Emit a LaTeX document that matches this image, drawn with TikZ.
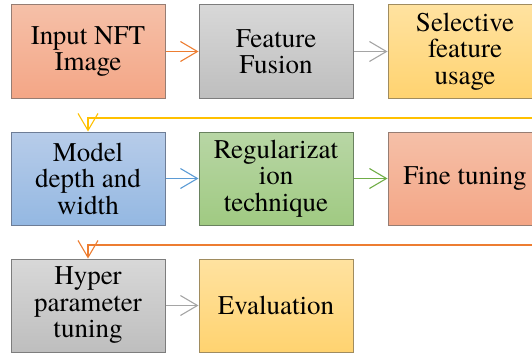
\documentclass[tikz,border=0pt]{standalone}
\usepackage{fontspec}
\IfFontExistsTF{texgyretermes-regular.otf}
  {\newfontfamily\boxfont{texgyretermes-regular.otf}}
  {\newfontfamily\boxfont{Liberation Serif}}
\usetikzlibrary{arrows.meta}
\definecolor{orT}{RGB}{245,192,168}
\definecolor{orB}{RGB}{244,166,134}
\definecolor{orD}{RGB}{150,125,115}
\definecolor{grT}{RGB}{216,216,216}
\definecolor{grB}{RGB}{190,190,190}
\definecolor{grD}{RGB}{125,125,125}
\definecolor{yeT}{RGB}{255,226,160}
\definecolor{yeB}{RGB}{255,211,112}
\definecolor{yeD}{RGB}{160,140,95}
\definecolor{blT}{RGB}{183,204,233}
\definecolor{blB}{RGB}{148,184,226}
\definecolor{blD}{RGB}{110,125,150}
\definecolor{gnT}{RGB}{184,214,165}
\definecolor{gnB}{RGB}{160,202,130}
\definecolor{gnD}{RGB}{105,130,95}
\definecolor{lnOr}{RGB}{237,125,49}
\definecolor{lnGr}{RGB}{165,165,165}
\definecolor{lnBl}{RGB}{91,155,213}
\definecolor{lnGn}{RGB}{112,173,71}
\definecolor{lnYe}{RGB}{255,192,0}
\tikzset{
  box/.style={rectangle, minimum width=154pt, minimum height=93pt, inner sep=0pt,
    align=center, line width=1pt,
    font=\boxfont\fontsize{27pt}{26.5pt}\selectfont},
  orbox/.style={box, draw=orD, top color=orT, bottom color=orB},
  grbox/.style={box, draw=grD, top color=grT, bottom color=grB},
  yebox/.style={box, draw=yeD, top color=yeT, bottom color=yeB},
  blbox/.style={box, draw=blD, top color=blT, bottom color=blB},
  gnbox/.style={box, draw=gnD, top color=gnT, bottom color=gnB},
  conn/.style={line width=1.1pt, -{Straight Barb[length=17pt,width=20pt,line width=1.1pt]}},
}
\begin{document}
\begin{tikzpicture}[x=1pt,y=-1pt]
\useasboundingbox (0,0) rectangle (532,353);
\clip (0,0) rectangle (532,353);
\node[orbox] (a) at (88,51.5) {Input NFT\\Image};
\node[grbox] (b) at (276,51.5) {Feature\\Fusion};
\node[yebox] (c) at (465,51.5) {Selective\\feature\\usage};
\node[blbox] (d) at (88,178.5) {Model\\depth and\\width};
\node[gnbox] (e) at (276,178.5) {Regularizat\\ion\\technique};
\node[orbox] (f) at (465,178.5) {Fine tuning};
\node[grbox] (g) at (88,305.5) {Hyper\\parameter\\tuning};
\node[yebox] (h) at (276,305.5) {Evaluation};
\coordinate (y1) at (560,118);
\coordinate (o1) at (560,245);
\draw[conn, lnOr] (a) -- (b);
\draw[conn, lnGr] (b) -- (c);
\draw[conn, lnYe] (y1) -| (d.north);
\draw[conn, lnBl] (d) -- (e);
\draw[conn, lnGn] (e) -- (f);
\draw[conn, lnOr] (o1) -| (g.north);
\draw[conn, lnGr] (g) -- (h);
\end{tikzpicture}
\end{document}
